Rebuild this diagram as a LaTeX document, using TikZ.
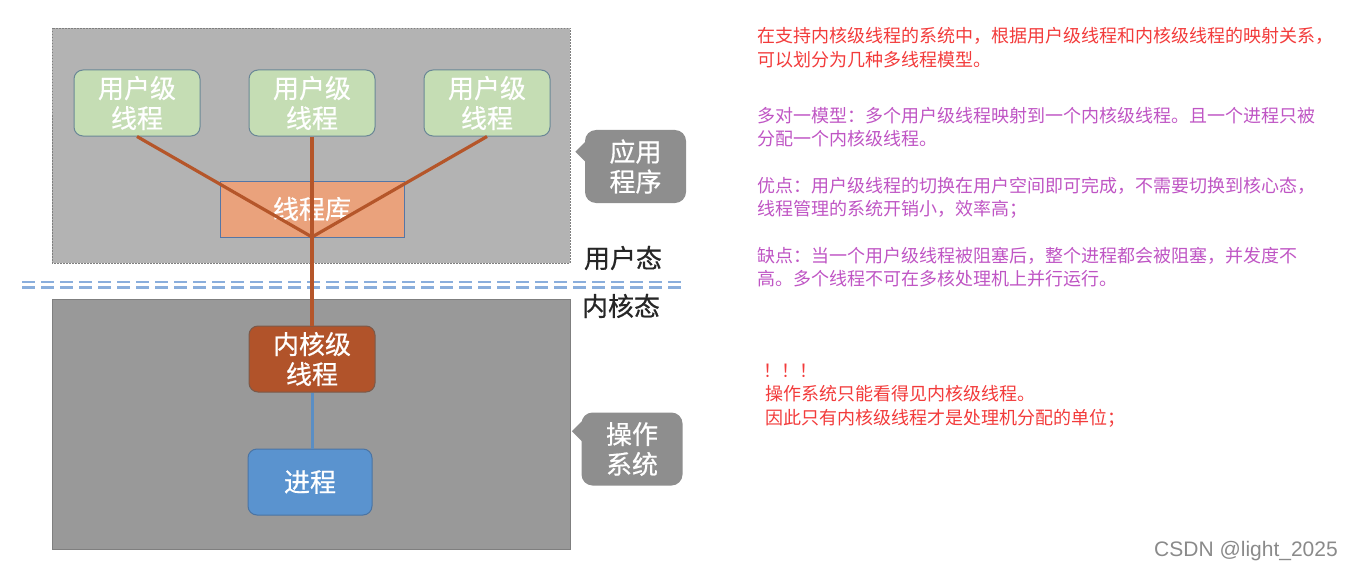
\documentclass[tikz,border=0pt]{standalone}
\usepackage{fontspec}
\setmainfont{Noto Sans CJK SC}
\newfontfamily\diagfont[FakeBold=0.6]{Noto Sans CJK SC}
\newfontfamily\latinfont{Liberation Sans}
\usetikzlibrary{calc}
\definecolor{areatop}{HTML}{B3B3B3}
\definecolor{areabot}{HTML}{999999}
\definecolor{areaedge}{HTML}{7F7F7F}
\definecolor{ugreen}{HTML}{C5DDB4}
\definecolor{uedge}{HTML}{6A8796}
\definecolor{libfill}{HTML}{EAA27C}
\definecolor{libedge}{HTML}{5576A6}
\definecolor{ktfill}{HTML}{B1532A}
\definecolor{ktedge}{HTML}{7A5A4A}
\definecolor{procfill}{HTML}{5A93CF}
\definecolor{procedge}{HTML}{4A74A4}
\definecolor{linkor}{HTML}{B5562A}
\definecolor{linkbl}{HTML}{5A8EC4}
\definecolor{sepblue}{HTML}{8AAEDC}
\definecolor{cgray}{HTML}{8E8E8E}
\definecolor{txtred}{HTML}{F23B3B}
\definecolor{txtpurple}{HTML}{BF55C4}
\definecolor{wmgray}{HTML}{8A8A8A}
\begin{document}
\begin{tikzpicture}[x=1pt,y=-1pt,
  area/.style={draw=areaedge, line width=0.6pt},
  box/.style={rounded corners=9pt, minimum width=126pt, minimum height=66pt,
    inner sep=0pt, align=center, text=white, line width=1pt,
    font=\diagfont\fontsize{26}{30}\selectfont},
  uthread/.style={box, fill=ugreen, draw=uedge},
  libbox/.style={draw=libedge, fill=libfill, line width=1pt, minimum width=184pt,
    minimum height=56pt, inner sep=0pt, text=white, font=\diagfont\fontsize{26}{30}\selectfont},
  kthread/.style={box, fill=ktfill, draw=ktedge},
  procbox/.style={box, fill=procfill, draw=procedge, minimum width=124pt},
  link/.style={draw=linkor, line width=3.2pt},
  linkb/.style={draw=linkbl, line width=3pt},
  sep/.style={draw=sepblue, line width=2.4pt, dash pattern=on 13pt off 6pt},
  cbox/.style={fill=cgray, rounded corners=11pt, minimum width=101pt, minimum height=73pt,
    inner sep=0pt, align=center, text=white, font=\diagfont\fontsize{26}{30}\selectfont},
  modelabel/.style={font=\diagfont\fontsize{26}{30}\selectfont, text=black!85},
  redline/.style={anchor=base west, text=txtred, font=\fontsize{18}{24}\selectfont, inner sep=0pt},
  purpline/.style={anchor=base west, text=txtpurple, font=\fontsize{18}{24}\selectfont, inner sep=0pt}
]
\useasboundingbox (0,0) rectangle (1351,567);

% areas
\fill[areatop] (52,28) rectangle (570,263);
\draw[areaedge, line width=0.6pt, dash pattern=on 1.5pt off 1.5pt] (52,28) rectangle (570,263);
\filldraw[area, fill=areabot] (52,299) rectangle (570,549);

% separator
\draw[sep] (22,282) -- (682,282);
\draw[sep] (22,287.5) -- (682,287.5);

% library
\node[libbox] (lib) at (312,209) {线程库};
\coordinate (hub) at (312,237);

% nodes
\node[uthread] (u1) at (137,103) {用户级\\线程};
\node[uthread] (u2) at (312,103) {用户级\\线程};
\node[uthread] (u3) at (487,103) {用户级\\线程};
\node[kthread] (kt) at (312,359) {内核级\\线程};
\node[procbox] (proc) at (310,482) {进程};

% links
\draw[link] (u1.south) -- (hub);
\draw[link] (u2.south) -- (hub);
\draw[link] (u3.south) -- (hub);
\draw[link] (hub) -- (kt.north);
\draw[linkb] (kt.south) -- (kt.south |- proc.north);

% mode labels
\node[modelabel] (umode) at (623,258) {用户态};
\node[modelabel] (kmode) at (621,306) {内核态};

% callouts
\node[cbox] (app) at (635.5,166.5) {应用\\程序};
\fill[cgray] ($(app.north west)+(0.5,12)$) -- ++(-10,10) -- ++(10,10) -- cycle;
\node[cbox] (os) at (632,449) {操作\\系统};
\fill[cgray] ($(os.north west)+(0.5,9)$) -- ++(-10,10) -- ++(10,10) -- cycle;

% right-hand text
\node[redline] (r1) at (757,43) {在支持内核级线程的系统中，根据用户级线程和内核级线程的映射关系，};
\node[redline] (r2) at (757,67) {可以划分为几种多线程模型。};
\node[purpline] (p1) at (757,122) {多对一模型：多个用户级线程映射到一个内核级线程。且一个进程只被};
\node[purpline] (p2) at (757,146) {分配一个内核级线程。};
\node[purpline] (p3) at (757,192) {优点：用户级线程的切换在用户空间即可完成，不需要切换到核心态，};
\node[purpline] (p4) at (757,215) {线程管理的系统开销小，效率高；};
\node[purpline] (p5) at (757,262) {缺点：当一个用户级线程被阻塞后，整个进程都会被阻塞，并发度不};
\node[purpline] (p6) at (757,285) {高。多个线程不可在多核处理机上并行运行。};
\node[redline] (w1) at (763,377) {！！！};
\node[redline] (w2) at (765,400) {操作系统只能看得见内核级线程。};
\node[redline] (w3) at (765,424) {因此只有内核级线程才是处理机分配的单位；};

\node[anchor=base east, inner sep=0pt, text=wmgray, font=\latinfont\fontsize{21}{21}\selectfont] (wm) at (1338,556) {CSDN @light\_2025};
\end{tikzpicture}
\end{document}
